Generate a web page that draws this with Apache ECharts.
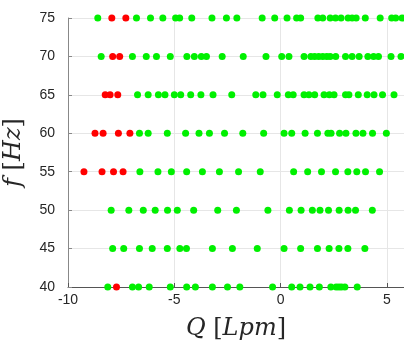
<!DOCTYPE html>
<html>
<head>
<meta charset="utf-8">
<script src="https://cdn.jsdelivr.net/npm/echarts@6/dist/echarts.min.js"></script>
<style>
  html, body { margin: 0; padding: 0; background: #fff; }
  #chart { width: 404px; height: 340px; }
</style>
</head>
<body>
<div id="chart"></div>
<script>
// frequency levels (Hz)
const freqs = [40, 45, 50, 55, 60, 65, 70, 75];
const yTicks = ['40', '45', '50', '55', '60', '65', '70', '75'];
const xTicks = ['-10', '-5', '0', '5'];

// flow rate Q (Lpm) of green points, one array per frequency
const green40 = [-8.13, -6.97, -6.68, -6.18, -5.19, -4.42, -4.01, -3.21, -2.50, -1.92, -0.38, 0.52, 0.91, 1.38, 1.82, 2.36, 2.61, 2.74, 2.86, 3.02, 3.60];
const green45 = [-7.90, -7.38, -6.64, -6.04, -5.33, -4.74, -4.43, -3.21, -2.27, -1.10, 0.16, 0.94, 1.73, 2.28, 2.74, 3.16, 3.96];
const green50 = [-7.97, -7.14, -6.46, -5.90, -5.32, -4.86, -4.09, -2.96, -2.08, -0.60, 0.41, 0.96, 1.49, 1.85, 2.25, 2.75, 3.17, 3.52, 4.31];
const green55 = [-6.62, -5.77, -5.14, -4.42, -3.68, -2.88, -1.98, -0.96, 0.61, 1.27, 1.92, 2.58, 3.16, 3.58, 3.99, 4.65];
const green60 = [-6.64, -6.23, -5.33, -4.47, -3.84, -3.35, -2.64, -1.78, -0.80, 0.16, 0.52, 1.15, 1.73, 2.22, 2.37, 2.77, 3.07, 3.54, 3.87, 4.32, 4.97];
const green65 = [-6.73, -6.23, -5.75, -5.44, -5.00, -4.70, -4.23, -3.75, -3.18, -2.30, -1.17, -0.83, -0.16, 0.36, 0.59, 1.10, 1.33, 1.60, 2.04, 2.29, 2.51, 3.05, 3.21, 3.65, 4.07, 4.39, 4.79, 5.33];
const green70 = [-8.44, -6.97, -6.32, -5.84, -5.19, -4.41, -4.06, -3.73, -3.49, -2.75, -1.76, -0.69, 0.05, 0.39, 1.10, 1.42, 1.60, 1.79, 1.98, 2.17, 2.33, 2.59, 3.05, 3.36, 3.69, 4.10, 4.37, 4.60, 5.19, 5.66];
const green75 = [-8.60, -6.78, -6.12, -5.54, -4.94, -4.75, -4.18, -3.23, -2.55, -2.06, -0.87, -0.28, 0.30, 0.75, 0.94, 1.75, 1.98, 2.33, 2.58, 2.84, 3.17, 3.36, 3.55, 3.98, 4.68, 5.22, 5.41, 5.71];

// red points
const red40 = [-7.72];
const red55 = [-9.25, -8.40, -7.86, -7.41];
const red60 = [-8.73, -8.35, -7.63, -7.09];
const red65 = [-8.25, -8.02, -7.66];
const red70 = [-7.90, -7.57];
const red75 = [-7.94, -7.28];

const greenRows = [green40, green45, green50, green55, green60, green65, green70, green75];
const redRows = [red40, [], [], red55, red60, red65, red70, red75];

const toPoints = rows => rows.flatMap((row, i) => row.map(q => [q, freqs[i]]));

const chart = echarts.init(document.getElementById('chart'), null, { renderer: 'canvas' });
const labelStyle = { color: '#262626', fontFamily: 'Liberation Sans, Arial', fontSize: 14 };
const mathRich = {
  i: { fontFamily: 'DejaVu Serif', fontStyle: 'italic', fontSize: 24, color: '#262626' },
  n: { fontFamily: 'DejaVu Serif', fontSize: 24, color: '#262626' }
};

chart.setOption({
  animation: false,
  grid: { left: 68, right: 0, top: 18, bottom: 53, outerBoundsMode: 'none' },
  xAxis: {
    type: 'value',
    min: -10,
    max: 5.8,
    interval: 5,
    name: '{i|Q}{n| [}{i|Lpm}{n|]}',
    nameLocation: 'middle',
    nameGap: 30,
    nameTextStyle: { rich: mathRich },
    axisLine: { show: true, onZero: false, lineStyle: { color: '#555', width: 1 } },
    axisTick: { show: true, inside: true, length: 4, lineStyle: { color: '#555' } },
    axisLabel: Object.assign({ margin: 6, showMaxLabel: false,
      formatter: v => xTicks.includes(String(v)) ? String(v) : '' }, labelStyle),
    splitLine: { show: true, lineStyle: { color: '#e6e6e6', width: 1 } }
  },
  yAxis: {
    type: 'value',
    min: 40,
    max: 75,
    interval: 5,
    name: '{i|f}{n| [}{i|Hz}{n|]}',
    nameLocation: 'middle',
    nameGap: 42,
    nameTextStyle: { rich: mathRich },
    axisLine: { show: true, onZero: false, lineStyle: { color: '#888', width: 1 } },
    axisTick: { show: true, inside: true, length: 4, lineStyle: { color: '#888' } },
    axisLabel: Object.assign({ margin: 13,
      formatter: v => yTicks.includes(String(v)) ? String(v) : '' }, labelStyle),
    splitLine: { show: true, lineStyle: { color: '#e6e6e6', width: 1 } }
  },
  series: [
    {
      type: 'scatter',
      data: toPoints(greenRows),
      symbolSize: 7,
      itemStyle: { color: '#00f000', opacity: 1 }
    },
    {
      type: 'scatter',
      data: toPoints(redRows),
      symbolSize: 7,
      itemStyle: { color: '#ff0000', opacity: 1 }
    }
  ]
});
</script>
</body>
</html>
